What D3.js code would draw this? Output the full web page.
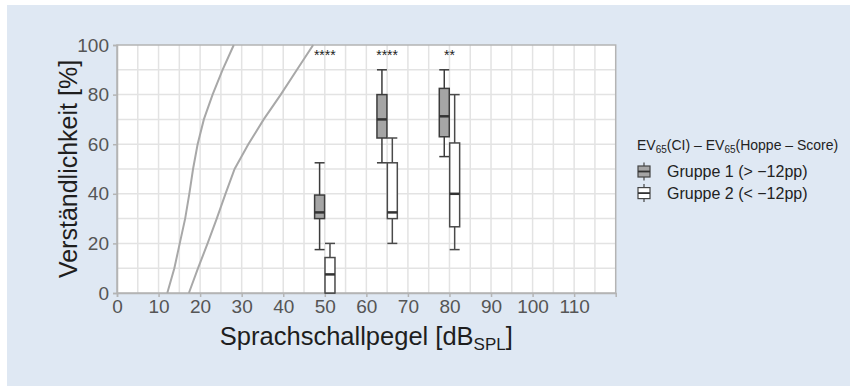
<!DOCTYPE html>
<html lang="de">

<head>
  <meta charset="UTF-8">
  <script src="https://d3js.org/d3.v7.min.js"></script>
  <title>Sprachverständlichkeit</title>
  <style>
    body { margin: 0; background: #ffffff; }
    text { font-family: "Liberation Sans", Arial, sans-serif; }
  </style>
</head>

<body>
  <div id="chart"></div>

  <script>
    // Pegel der Messungen und Box-Statistik je Gruppe
    const levels = [50, 65, 80];
    const stars = ["****", "****", "**"];

    const g1_min = [17.5, 52.5, 55];
    const g1_q1 = [30, 62.5, 63];
    const g1_med = [32.5, 70, 71.25];
    const g1_q3 = [39.5, 80, 82.5];
    const g1_max = [52.5, 90, 90];

    const g2_min = [0, 20, 17.5];
    const g2_q1 = [0, 30, 26.7];
    const g2_med = [7.5, 32.5, 40];
    const g2_q3 = [14.3, 52.5, 60.5];
    const g2_max = [20, 62.5, 80];

    // Normkurven (Pegel fuer 0..100 %)
    const curve_pct = [0, 10, 20, 30, 40, 50, 60, 70, 80, 90, 100];
    const curve1_db = [12.1, 13.8, 15.1, 16.4, 17.4, 18.3, 19.4, 20.9, 23.0, 25.4, 28.1];
    const curve2_db = [17.3, 19.5, 21.8, 24.0, 26.1, 28.3, 31.6, 35.3, 39.4, 43.3, 47.2];

    const x_ticks = [0, 10, 20, 30, 40, 50, 60, 70, 80, 90, 100, 110];
    const y_ticks = [0, 20, 40, 60, 80, 100];
    const group_labels = ["Gruppe 1 (> \u221212pp)", "Gruppe 2 (< \u221212pp)"];
    const group_fill = ["#a5a5a5", "#ffffff"];

    const width = 857;
    const height = 388;
    const plot_left = 117, plot_right = 615.7, plot_top = 45, plot_bottom = 293;
    const box_w = 2.4; // in dB
    const box_off = 1.25;

    const svg = d3.select("#chart")
      .append("svg")
      .attr("width", width)
      .attr("height", height);

    svg.append("rect")
      .attr("x", 7).attr("y", 5)
      .attr("width", 843).attr("height", 381)
      .attr("fill", "#dfe8f3");

    const x = d3.scaleLinear().domain([0, 120]).range([plot_left, plot_right]);
    const y = d3.scaleLinear().domain([0, 100]).range([plot_bottom, plot_top]);

    svg.append("rect")
      .attr("x", x(0)).attr("y", y(100))
      .attr("width", x(120) - x(0)).attr("height", y(0) - y(100))
      .attr("fill", "#ffffff");

    // Gitter
    svg.append("g")
      .selectAll("line")
      .data(d3.range(5, 120, 5))
      .join("line")
      .attr("x1", d => x(d)).attr("x2", d => x(d))
      .attr("y1", y(0)).attr("y2", y(100))
      .attr("stroke", "#e3e3e3").attr("stroke-width", 1.5);

    svg.append("g")
      .selectAll("line")
      .data(d3.range(10, 100, 10))
      .join("line")
      .attr("x1", x(0)).attr("x2", x(120))
      .attr("y1", d => y(d)).attr("y2", d => y(d))
      .attr("stroke", "#e3e3e3").attr("stroke-width", 1.5);

    svg.append("rect")
      .attr("x", x(0)).attr("y", y(100))
      .attr("width", x(120) - x(0)).attr("height", y(0) - y(100))
      .attr("fill", "none")
      .attr("stroke", "#b4b4b4").attr("stroke-width", 1.5);

    // Achsen
    const x_axis = svg.append("g")
      .attr("transform", "translate(0," + plot_bottom + ")")
      .call(d3.axisBottom(x).tickValues(x_ticks).tickSize(4).tickPadding(3));
    const y_axis = svg.append("g")
      .attr("transform", "translate(" + plot_left + ",0)")
      .call(d3.axisLeft(y).tickValues(y_ticks).tickSize(4).tickPadding(4));

    [x_axis, y_axis].forEach(a => {
      a.select(".domain").attr("stroke", "#b4b4b4").attr("stroke-width", 1.5);
      a.selectAll(".tick line").attr("stroke", "#b4b4b4").attr("stroke-width", 1.5);
      a.selectAll(".tick text")
        .attr("fill", "#555555")
        .style("font-size", "19px")
        .style("font-family", "Liberation Sans, Arial, sans-serif");
    });

    // Normkurven
    const line = d3.line()
      .x(d => x(d[0]))
      .y(d => y(d[1]));

    [curve1_db, curve2_db].forEach(c => {
      svg.append("path")
        .datum(c.map((v, i) => [v, curve_pct[i]]))
        .attr("d", line)
        .attr("fill", "none")
        .attr("stroke", "#a8a8a8")
        .attr("stroke-width", 2);
    });

    // Boxplots
    const groups = [
      { off: -box_off, fill: group_fill[0], stroke: "#3c3c3c", mn: g1_min, q1: g1_q1, md: g1_med, q3: g1_q3, mx: g1_max },
      { off: box_off, fill: group_fill[1], stroke: "#4a4a4a", mn: g2_min, q1: g2_q1, md: g2_med, q3: g2_q3, mx: g2_max }
    ];

    groups.forEach(g => {
      const bx = svg.append("g")
        .selectAll("g")
        .data(levels)
        .join("g");

      bx.append("line")
        .attr("x1", (d) => x(d + g.off)).attr("x2", (d) => x(d + g.off))
        .attr("y1", (d, i) => y(g.mn[i])).attr("y2", (d, i) => y(g.mx[i]))
        .attr("stroke", g.stroke).attr("stroke-width", 1.5);

      [g.mn, g.mx].forEach(arr => {
        bx.append("line")
          .attr("x1", d => x(d + g.off - box_w / 2)).attr("x2", d => x(d + g.off + box_w / 2))
          .attr("y1", (d, i) => y(arr[i])).attr("y2", (d, i) => y(arr[i]))
          .attr("stroke", g.stroke).attr("stroke-width", 1.5);
      });

      bx.append("rect")
        .attr("x", d => x(d + g.off - box_w / 2))
        .attr("width", x(box_w) - x(0))
        .attr("y", (d, i) => y(g.q3[i]))
        .attr("height", (d, i) => y(g.q1[i]) - y(g.q3[i]))
        .attr("fill", g.fill)
        .attr("stroke", g.stroke).attr("stroke-width", 1.5);

      bx.append("line")
        .attr("x1", d => x(d + g.off - box_w / 2)).attr("x2", d => x(d + g.off + box_w / 2))
        .attr("y1", (d, i) => y(g.md[i])).attr("y2", (d, i) => y(g.md[i]))
        .attr("stroke", "#333333").attr("stroke-width", 2.5);
    });

    // Signifikanz
    svg.append("g")
      .selectAll("text")
      .data(levels)
      .join("text")
      .attr("x", d => x(d))
      .attr("y", y(100) + 15)
      .attr("text-anchor", "middle")
      .attr("fill", "#222222")
      .style("font-size", "14px")
      .text((d, i) => stars[i]);

    // Achsentitel
    svg.append("text")
      .attr("transform", "translate(77," + ((plot_top + plot_bottom) / 2) + ") rotate(-90)")
      .attr("text-anchor", "middle")
      .attr("fill", "#1e1e1e")
      .style("font-size", "25px")
      .text("Verständlichkeit [%]");

    const xl = svg.append("text")
      .attr("x", (plot_left + plot_right) / 2)
      .attr("y", 345)
      .attr("text-anchor", "middle")
      .attr("fill", "#1e1e1e")
      .style("font-size", "25.5px");
    xl.append("tspan").text("Sprachschallpegel [dB");
    xl.append("tspan").attr("dy", 5).style("font-size", "17px").text("SPL");
    xl.append("tspan").attr("dy", -5).text("]");

    // Legende
    const lg_x = 637;
    const title = svg.append("text")
      .attr("x", lg_x).attr("y", 150)
      .attr("fill", "#222222")
      .style("font-size", "14px");
    title.append("tspan").text("EV");
    title.append("tspan").attr("dy", 3).style("font-size", "10px").text("65");
    title.append("tspan").attr("dy", -3).text("(CI) \u2013 EV");
    title.append("tspan").attr("dy", 3).style("font-size", "10px").text("65");
    title.append("tspan").attr("dy", -3).text("(Hoppe \u2013 Score)");

    const lg = svg.append("g")
      .selectAll("g")
      .data(group_labels)
      .join("g")
      .attr("transform", (d, i) => "translate(" + lg_x + "," + (171.5 + i * 21.6) + ")");

    lg.append("line")
      .attr("x1", 7).attr("x2", 7).attr("y1", -9).attr("y2", 9)
      .attr("stroke", "#444444").attr("stroke-width", 1.2);
    lg.append("rect")
      .attr("x", 1).attr("y", -5.5).attr("width", 12).attr("height", 11)
      .attr("fill", (d, i) => group_fill[i])
      .attr("stroke", "#444444").attr("stroke-width", 1.2);
    lg.append("line")
      .attr("x1", 1).attr("x2", 13).attr("y1", 0).attr("y2", 0)
      .attr("stroke", "#333333").attr("stroke-width", 1.8);
    lg.append("text")
      .attr("x", 30).attr("y", 5.5)
      .attr("fill", "#222222")
      .style("font-size", "16px")
      .text(d => d);
  </script>
</body>

</html>
